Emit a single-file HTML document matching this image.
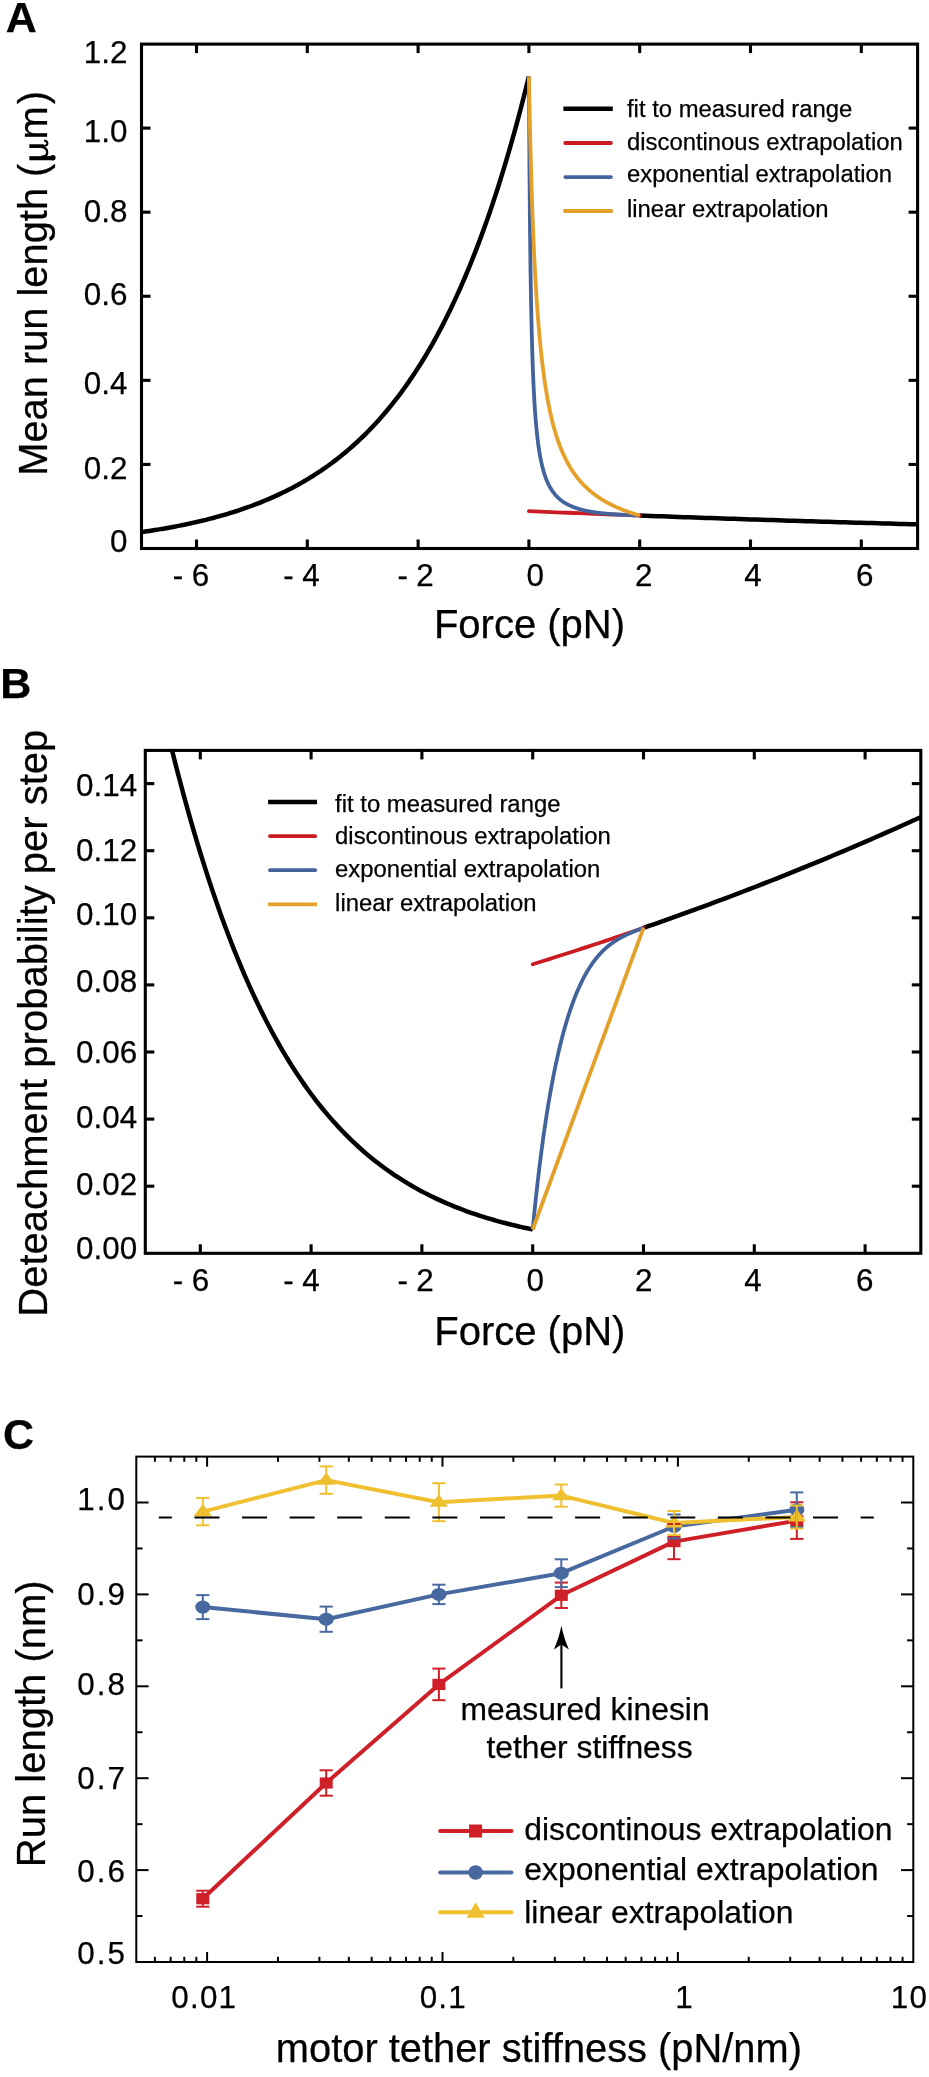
<!DOCTYPE html>
<html><head><meta charset="utf-8"><title>figure</title>
<style>
html,body{margin:0;padding:0;background:#fff;}
svg{display:block;will-change:transform;}
text{font-family:"Liberation Sans",sans-serif;fill:#000;stroke:#000;stroke-width:0.25px;}
</style></head><body>
<svg width="929" height="2077" viewBox="0 0 929 2077">
<rect width="929" height="2077" fill="#fff"/>
<path d="M141.1 532.14 L143.87 531.74 L146.64 531.33 L149.41 530.91 L152.18 530.49 L154.95 530.05 L157.72 529.6 L160.49 529.14 L163.26 528.67 L166.03 528.19 L168.8 527.69 L171.57 527.19 L174.34 526.67 L177.11 526.14 L179.88 525.6 L182.65 525.04 L185.42 524.47 L188.19 523.89 L190.96 523.29 L193.73 522.67 L196.5 522.05 L199.27 521.4 L202.04 520.75 L204.81 520.07 L207.58 519.38 L210.35 518.67 L213.12 517.95 L215.89 517.2 L218.66 516.44 L221.43 515.66 L224.2 514.87 L226.97 514.05 L229.74 513.21 L232.51 512.35 L235.28 511.48 L238.05 510.58 L240.82 509.65 L243.59 508.71 L246.36 507.74 L249.13 506.75 L251.9 505.74 L254.67 504.7 L257.44 503.63 L260.21 502.54 L262.98 501.43 L265.75 500.28 L268.52 499.11 L271.29 497.91 L274.06 496.68 L276.83 495.42 L279.6 494.13 L282.37 492.81 L285.14 491.45 L287.91 490.07 L290.68 488.65 L293.45 487.19 L296.22 485.7 L298.99 484.18 L301.76 482.61 L304.53 481.01 L307.3 479.37 L310.07 477.69 L312.84 475.97 L315.61 474.21 L318.38 472.4 L321.15 470.55 L323.92 468.66 L326.69 466.72 L329.46 464.73 L332.23 462.69 L335 460.61 L337.77 458.47 L340.54 456.28 L343.31 454.04 L346.08 451.74 L348.85 449.39 L351.62 446.98 L354.39 444.52 L357.16 441.99 L359.93 439.4 L362.7 436.75 L365.47 434.03 L368.24 431.25 L371.01 428.4 L373.78 425.48 L376.55 422.49 L379.32 419.43 L382.09 416.29 L384.86 413.08 L387.63 409.78 L390.4 406.41 L393.17 402.96 L395.94 399.42 L398.71 395.8 L401.48 392.09 L404.25 388.28 L407.02 384.39 L409.79 380.4 L412.56 376.32 L415.33 372.13 L418.1 367.84 L420.87 363.45 L423.64 358.96 L426.41 354.35 L429.18 349.63 L431.95 344.8 L434.72 339.84 L437.49 334.77 L440.26 329.58 L443.03 324.26 L445.8 318.81 L448.57 313.22 L451.34 307.5 L454.11 301.65 L456.88 295.65 L459.65 289.5 L462.42 283.21 L465.19 276.76 L467.96 270.15 L470.73 263.39 L473.5 256.46 L476.27 249.36 L479.04 242.09 L481.81 234.64 L484.58 227.01 L487.35 219.2 L490.12 211.19 L492.89 202.99 L495.66 194.6 L498.43 185.99 L501.2 177.18 L503.97 168.16 L506.74 158.91 L509.51 149.44 L512.28 139.74 L515.05 129.81 L517.82 119.63 L520.59 109.21 L523.36 98.53 L526.13 87.59 L528.9 76.39" fill="none" stroke="#000" stroke-width="4.5" stroke-linejoin="round"/>
<path d="M639.7 515.53 L645.24 515.74 L650.78 515.94 L656.32 516.14 L661.86 516.34 L667.4 516.54 L672.94 516.74 L678.48 516.94 L684.02 517.13 L689.56 517.33 L695.1 517.52 L700.64 517.71 L706.18 517.91 L711.72 518.09 L717.26 518.28 L722.8 518.47 L728.34 518.66 L733.88 518.84 L739.42 519.03 L744.96 519.21 L750.5 519.39 L756.04 519.57 L761.58 519.75 L767.12 519.93 L772.66 520.11 L778.2 520.28 L783.74 520.46 L789.28 520.63 L794.82 520.8 L800.36 520.97 L805.9 521.15 L811.44 521.31 L816.98 521.48 L822.52 521.65 L828.06 521.82 L833.6 521.98 L839.14 522.15 L844.68 522.31 L850.22 522.47 L855.76 522.63 L861.3 522.79 L866.84 522.95 L872.38 523.11 L877.92 523.27 L883.46 523.43 L889 523.58 L894.54 523.74 L900.08 523.89 L905.62 524.04 L911.16 524.19 L916.7 524.34" fill="none" stroke="#000" stroke-width="4.5" />
<path d="M528.9 511.17 L534.44 511.4 L539.98 511.63 L545.52 511.86 L551.06 512.09 L556.6 512.31 L562.14 512.54 L567.68 512.76 L573.22 512.98 L578.76 513.2 L584.3 513.42 L589.84 513.64 L595.38 513.85 L600.92 514.07 L606.46 514.28 L612 514.49 L617.54 514.7 L623.08 514.91 L628.62 515.12 L634.16 515.33 L639.7 515.53" fill="none" stroke="#ca1a22" stroke-width="3.8" stroke-linecap="round"/>
<path d="M528.9 76.39 L529.45 168.25 L530.01 229.22 L530.56 272.63 L531.12 305.11 L531.67 330.33 L532.22 350.47 L532.78 366.93 L533.33 380.63 L533.89 392.2 L534.44 402.11 L534.99 410.69 L535.55 418.19 L536.1 424.8 L536.66 430.67 L537.21 435.92 L537.76 440.64 L538.32 444.9 L538.87 448.78 L539.43 452.31 L539.98 455.54 L540.53 458.51 L541.09 461.25 L541.64 463.79 L542.2 466.14 L542.75 468.32 L543.3 470.36 L543.86 472.27 L544.41 474.05 L544.97 475.72 L545.52 477.29 L546.07 478.77 L546.63 480.17 L547.18 481.48 L547.74 482.73 L548.29 483.91 L548.84 485.03 L549.4 486.09 L549.95 487.1 L550.51 488.07 L551.06 488.98 L551.61 489.86 L552.17 490.69 L552.72 491.49 L553.28 492.25 L553.83 492.98 L554.38 493.68 L554.94 494.35 L555.49 495 L556.05 495.62 L556.6 496.21 L557.15 496.78 L557.71 497.33 L558.26 497.86 L558.82 498.37 L559.37 498.86 L559.92 499.33 L560.48 499.79 L561.03 500.23 L561.59 500.65 L562.14 501.06 L562.69 501.46 L563.25 501.84 L563.8 502.21 L564.36 502.57 L564.91 502.92 L565.46 503.25 L566.02 503.58 L566.57 503.9 L567.13 504.2 L567.68 504.5 L568.23 504.79 L568.79 505.06 L569.34 505.34 L569.9 505.6 L570.45 505.85 L571 506.1 L571.56 506.34 L572.11 506.58 L572.67 506.8 L573.22 507.02 L573.77 507.24 L574.33 507.45 L574.88 507.65 L575.44 507.85 L575.99 508.04 L576.54 508.23 L577.1 508.41 L577.65 508.59 L578.21 508.76 L578.76 508.93 L579.31 509.09 L579.87 509.25 L580.42 509.41 L580.98 509.56 L581.53 509.7 L582.08 509.85 L582.64 509.99 L583.19 510.12 L583.75 510.26 L584.3 510.39 L584.85 510.51 L585.41 510.64 L585.96 510.76 L586.52 510.87 L587.07 510.99 L587.62 511.1 L588.18 511.21 L588.73 511.32 L589.29 511.42 L589.84 511.52 L590.39 511.62 L590.95 511.72 L591.5 511.81 L592.06 511.9 L592.61 511.99 L593.16 512.08 L593.72 512.16 L594.27 512.25 L594.83 512.33 L595.38 512.41 L595.93 512.49 L596.49 512.56 L597.04 512.64 L597.6 512.71 L598.15 512.78 L598.7 512.85 L599.26 512.92 L599.81 512.98 L600.37 513.05 L600.92 513.11 L601.47 513.17 L602.03 513.23 L602.58 513.29 L603.14 513.35 L603.69 513.4 L604.24 513.46 L604.8 513.51 L605.35 513.57 L605.91 513.62 L606.46 513.67 L607.01 513.72 L607.57 513.77 L608.12 513.81 L608.68 513.86 L609.23 513.91 L609.78 513.95 L610.34 513.99 L610.89 514.04 L611.45 514.08 L612 514.12 L612.55 514.16 L613.11 514.2 L613.66 514.24 L614.22 514.28 L614.77 514.31 L615.32 514.35 L615.88 514.39 L616.43 514.42 L616.99 514.46 L617.54 514.49 L618.09 514.52 L618.65 514.56 L619.2 514.59 L619.76 514.62 L620.31 514.65 L620.86 514.68 L621.42 514.71 L621.97 514.74 L622.53 514.77 L623.08 514.8 L623.63 514.83 L624.19 514.86 L624.74 514.89 L625.3 514.91 L625.85 514.94 L626.4 514.97 L626.96 514.99 L627.51 515.02 L628.07 515.05 L628.62 515.07 L629.17 515.1 L629.73 515.12 L630.28 515.15 L630.84 515.17 L631.39 515.19 L631.94 515.22 L632.5 515.24 L633.05 515.27 L633.61 515.29 L634.16 515.31 L634.71 515.34 L635.27 515.36 L635.82 515.38 L636.38 515.4 L636.93 515.43 L637.48 515.45 L638.04 515.47 L638.59 515.49 L639.15 515.51 L639.7 515.53" fill="none" stroke="#43639c" stroke-width="3.8" stroke-linejoin="round"/>
<path d="M528.9 76.39 L529.45 104.6 L530.01 129.65 L530.56 152.02 L531.12 172.14 L531.67 190.32 L532.22 206.83 L532.78 221.9 L533.33 235.69 L533.89 248.38 L534.44 260.08 L534.99 270.91 L535.55 280.96 L536.1 290.31 L536.66 299.03 L537.21 307.19 L537.76 314.83 L538.32 322.01 L538.87 328.76 L539.43 335.12 L539.98 341.13 L540.53 346.81 L541.09 352.19 L541.64 357.3 L542.2 362.15 L542.75 366.76 L543.3 371.14 L543.86 375.33 L544.41 379.32 L544.97 383.14 L545.52 386.78 L546.07 390.28 L546.63 393.62 L547.18 396.83 L547.74 399.91 L548.29 402.87 L548.84 405.71 L549.4 408.45 L549.95 411.09 L550.51 413.63 L551.06 416.07 L551.61 418.43 L552.17 420.71 L552.72 422.92 L553.28 425.05 L553.83 427.1 L554.38 429.1 L554.94 431.02 L555.49 432.89 L556.05 434.7 L556.6 436.46 L557.15 438.16 L557.71 439.81 L558.26 441.42 L558.82 442.98 L559.37 444.49 L559.92 445.96 L560.48 447.4 L561.03 448.79 L561.59 450.15 L562.14 451.47 L562.69 452.75 L563.25 454 L563.8 455.22 L564.36 456.41 L564.91 457.58 L565.46 458.71 L566.02 459.81 L566.57 460.89 L567.13 461.95 L567.68 462.97 L568.23 463.98 L568.79 464.96 L569.34 465.92 L569.9 466.86 L570.45 467.78 L571 468.68 L571.56 469.55 L572.11 470.41 L572.67 471.26 L573.22 472.08 L573.77 472.89 L574.33 473.68 L574.88 474.45 L575.44 475.21 L575.99 475.96 L576.54 476.69 L577.1 477.4 L577.65 478.1 L578.21 478.79 L578.76 479.47 L579.31 480.13 L579.87 480.78 L580.42 481.42 L580.98 482.04 L581.53 482.66 L582.08 483.26 L582.64 483.86 L583.19 484.44 L583.75 485.01 L584.3 485.57 L584.85 486.13 L585.41 486.67 L585.96 487.21 L586.52 487.73 L587.07 488.25 L587.62 488.76 L588.18 489.26 L588.73 489.75 L589.29 490.24 L589.84 490.71 L590.39 491.18 L590.95 491.64 L591.5 492.1 L592.06 492.55 L592.61 492.99 L593.16 493.42 L593.72 493.85 L594.27 494.27 L594.83 494.69 L595.38 495.1 L595.93 495.5 L596.49 495.9 L597.04 496.29 L597.6 496.67 L598.15 497.05 L598.7 497.43 L599.26 497.8 L599.81 498.16 L600.37 498.52 L600.92 498.88 L601.47 499.23 L602.03 499.57 L602.58 499.91 L603.14 500.25 L603.69 500.58 L604.24 500.91 L604.8 501.23 L605.35 501.55 L605.91 501.86 L606.46 502.17 L607.01 502.48 L607.57 502.78 L608.12 503.08 L608.68 503.37 L609.23 503.67 L609.78 503.95 L610.34 504.24 L610.89 504.52 L611.45 504.8 L612 505.07 L612.55 505.34 L613.11 505.61 L613.66 505.87 L614.22 506.13 L614.77 506.39 L615.32 506.65 L615.88 506.9 L616.43 507.15 L616.99 507.4 L617.54 507.64 L618.09 507.88 L618.65 508.12 L619.2 508.35 L619.76 508.59 L620.31 508.82 L620.86 509.04 L621.42 509.27 L621.97 509.49 L622.53 509.71 L623.08 509.93 L623.63 510.15 L624.19 510.36 L624.74 510.57 L625.3 510.78 L625.85 510.99 L626.4 511.19 L626.96 511.39 L627.51 511.6 L628.07 511.79 L628.62 511.99 L629.17 512.18 L629.73 512.38 L630.28 512.57 L630.84 512.76 L631.39 512.94 L631.94 513.13 L632.5 513.31 L633.05 513.49 L633.61 513.67 L634.16 513.85 L634.71 514.02 L635.27 514.2 L635.82 514.37 L636.38 514.54 L636.93 514.71 L637.48 514.88 L638.04 515.05 L638.59 515.21 L639.15 515.37 L639.7 515.53" fill="none" stroke="#e5a029" stroke-width="3.8" stroke-linejoin="round"/>
<rect x="141.5" y="44.1" width="776.1" height="504.4" fill="none" stroke="#000" stroke-width="3.1"/>
<line x1="196.5" y1="548.5" x2="196.5" y2="539.5" stroke="#000" stroke-width="3.1" />
<line x1="196.5" y1="44.1" x2="196.5" y2="53.1" stroke="#000" stroke-width="3.1" />
<line x1="307.3" y1="548.5" x2="307.3" y2="539.5" stroke="#000" stroke-width="3.1" />
<line x1="307.3" y1="44.1" x2="307.3" y2="53.1" stroke="#000" stroke-width="3.1" />
<line x1="418.1" y1="548.5" x2="418.1" y2="539.5" stroke="#000" stroke-width="3.1" />
<line x1="418.1" y1="44.1" x2="418.1" y2="53.1" stroke="#000" stroke-width="3.1" />
<line x1="528.9" y1="548.5" x2="528.9" y2="539.5" stroke="#000" stroke-width="3.1" />
<line x1="528.9" y1="44.1" x2="528.9" y2="53.1" stroke="#000" stroke-width="3.1" />
<line x1="639.7" y1="548.5" x2="639.7" y2="539.5" stroke="#000" stroke-width="3.1" />
<line x1="639.7" y1="44.1" x2="639.7" y2="53.1" stroke="#000" stroke-width="3.1" />
<line x1="750.5" y1="548.5" x2="750.5" y2="539.5" stroke="#000" stroke-width="3.1" />
<line x1="750.5" y1="44.1" x2="750.5" y2="53.1" stroke="#000" stroke-width="3.1" />
<line x1="861.3" y1="548.5" x2="861.3" y2="539.5" stroke="#000" stroke-width="3.1" />
<line x1="861.3" y1="44.1" x2="861.3" y2="53.1" stroke="#000" stroke-width="3.1" />
<line x1="141.5" y1="464.42" x2="150.5" y2="464.42" stroke="#000" stroke-width="3.1" />
<line x1="917.6" y1="464.42" x2="908.6" y2="464.42" stroke="#000" stroke-width="3.1" />
<line x1="141.5" y1="380.34" x2="150.5" y2="380.34" stroke="#000" stroke-width="3.1" />
<line x1="917.6" y1="380.34" x2="908.6" y2="380.34" stroke="#000" stroke-width="3.1" />
<line x1="141.5" y1="296.26" x2="150.5" y2="296.26" stroke="#000" stroke-width="3.1" />
<line x1="917.6" y1="296.26" x2="908.6" y2="296.26" stroke="#000" stroke-width="3.1" />
<line x1="141.5" y1="212.18" x2="150.5" y2="212.18" stroke="#000" stroke-width="3.1" />
<line x1="917.6" y1="212.18" x2="908.6" y2="212.18" stroke="#000" stroke-width="3.1" />
<line x1="141.5" y1="128.1" x2="150.5" y2="128.1" stroke="#000" stroke-width="3.1" />
<line x1="917.6" y1="128.1" x2="908.6" y2="128.1" stroke="#000" stroke-width="3.1" />
<text x="127.4" y="63.2" font-size="31.4" text-anchor="end" >1.2</text>
<text x="127.4" y="142.1" font-size="31.4" text-anchor="end" >1.0</text>
<text x="127.4" y="221.9" font-size="31.4" text-anchor="end" >0.8</text>
<text x="127.4" y="305.3" font-size="31.4" text-anchor="end" >0.6</text>
<text x="127.4" y="394" font-size="31.4" text-anchor="end" >0.4</text>
<text x="127.4" y="478.6" font-size="31.4" text-anchor="end" >0.2</text>
<text x="127.4" y="552.4" font-size="31.4" text-anchor="end" >0</text>
<text x="200.6" y="586.2" font-size="31.4" text-anchor="middle" >6</text>
<text x="178" y="586.2" font-size="31.4" text-anchor="middle" >-</text>
<text x="310.9" y="586.2" font-size="31.4" text-anchor="middle" >4</text>
<text x="288.6" y="586.2" font-size="31.4" text-anchor="middle" >-</text>
<text x="425" y="586.2" font-size="31.4" text-anchor="middle" >2</text>
<text x="402.7" y="586.2" font-size="31.4" text-anchor="middle" >-</text>
<text x="535.2" y="586.2" font-size="31.4" text-anchor="middle" >0</text>
<text x="643.8" y="586.2" font-size="31.4" text-anchor="middle" >2</text>
<text x="753" y="586.2" font-size="31.4" text-anchor="middle" >4</text>
<text x="864.8" y="586.2" font-size="31.4" text-anchor="middle" >6</text>
<text x="529.5" y="638.3" font-size="40" text-anchor="middle" >Force (pN)</text>
<g transform="translate(47.0,475.8) rotate(-90)">
<text x="0" y="0" font-size="39.85">Mean run length (</text>
<text x="336.4" y="0" font-size="39.85">m</text>
<text x="371.5" y="0" font-size="39.85">)</text>
<g fill="none" stroke="#000">
<path d="M317.6 -17.7 L317.6 5.6" stroke-width="4.1"/>
<circle cx="318.0" cy="5.9" r="2.7" fill="#000" stroke="none"/>
<path d="M319.2 -5.5 C319.2 -0.8 321.3 0.2 323.6 0.2 C326.4 0.2 328.2 -1.8 329.0 -5.2" stroke-width="2.3"/>
<path d="M329.7 -17.7 L329.7 -3.2" stroke-width="3.7"/>
<path d="M329.7 -4.0 C329.7 -0.6 330.9 0.4 332.5 0.4 C334.1 0.4 335.1 -0.8 335.4 -2.8" stroke-width="2.0"/>
</g></g>
<text x="5.7" y="32.4" font-size="43" text-anchor="start" font-weight="bold" >A</text>
<line x1="563.4" y1="108.7" x2="612.8" y2="108.7" stroke="#000" stroke-width="4.4" stroke-linecap="butt"/>
<text x="627" y="116.9" font-size="23.85" text-anchor="start" >fit to measured range</text>
<line x1="565.3" y1="143" x2="610.9" y2="143" stroke="#ca1a22" stroke-width="3.8" stroke-linecap="round"/>
<text x="627" y="149.6" font-size="23.85" text-anchor="start" >discontinous extrapolation</text>
<line x1="565.3" y1="177.1" x2="610.9" y2="177.1" stroke="#43639c" stroke-width="3.8" stroke-linecap="round"/>
<text x="627" y="181.9" font-size="23.85" text-anchor="start" >exponential extrapolation</text>
<line x1="563.4" y1="211" x2="612.8" y2="211" stroke="#e5a029" stroke-width="3.8" stroke-linecap="butt"/>
<text x="627" y="216.8" font-size="23.85" text-anchor="start" >linear extrapolation</text>
<clipPath id="cb"><rect x="145.3" y="750.4" width="775.5" height="502.9"/></clipPath>
<path d="M144.9 629.99 L147.67 643.35 L150.44 656.45 L153.21 669.3 L155.98 681.91 L158.75 694.27 L161.52 706.38 L164.29 718.27 L167.06 729.92 L169.83 741.34 L172.6 752.53 L175.37 763.5 L178.14 774.25 L180.91 784.78 L183.68 795.1 L186.45 805.21 L189.22 815.12 L191.99 824.82 L194.76 834.33 L197.53 843.63 L200.3 852.75 L203.07 861.68 L205.84 870.42 L208.61 878.98 L211.38 887.36 L214.15 895.56 L216.92 903.59 L219.69 911.45 L222.46 919.14 L225.23 926.67 L228 934.04 L230.77 941.25 L233.54 948.31 L236.31 955.22 L239.08 961.97 L241.85 968.58 L244.62 975.05 L247.39 981.38 L250.16 987.57 L252.93 993.62 L255.7 999.55 L258.47 1005.34 L261.24 1011.01 L264.01 1016.55 L266.78 1021.97 L269.55 1027.27 L272.32 1032.45 L275.09 1037.52 L277.86 1042.47 L280.63 1047.32 L283.4 1052.06 L286.17 1056.69 L288.94 1061.22 L291.71 1065.65 L294.48 1069.98 L297.25 1074.21 L300.02 1078.35 L302.79 1082.39 L305.56 1086.34 L308.33 1090.21 L311.1 1093.98 L313.87 1097.67 L316.64 1101.28 L319.41 1104.81 L322.18 1108.26 L324.95 1111.62 L327.72 1114.91 L330.49 1118.13 L333.26 1121.28 L336.03 1124.35 L338.8 1127.35 L341.57 1130.28 L344.34 1133.15 L347.11 1135.95 L349.88 1138.69 L352.65 1141.36 L355.42 1143.97 L358.19 1146.52 L360.96 1149.02 L363.73 1151.45 L366.5 1153.84 L369.27 1156.16 L372.04 1158.43 L374.81 1160.65 L377.58 1162.82 L380.35 1164.94 L383.12 1167.01 L385.89 1169.03 L388.66 1171.01 L391.43 1172.94 L394.2 1174.82 L396.97 1176.66 L399.74 1178.46 L402.51 1180.22 L405.28 1181.93 L408.05 1183.61 L410.82 1185.24 L413.59 1186.84 L416.36 1188.4 L419.13 1189.93 L421.9 1191.42 L424.67 1192.87 L427.44 1194.3 L430.21 1195.68 L432.98 1197.04 L435.75 1198.36 L438.52 1199.66 L441.29 1200.92 L444.06 1202.15 L446.83 1203.36 L449.6 1204.53 L452.37 1205.68 L455.14 1206.8 L457.91 1207.9 L460.68 1208.97 L463.45 1210.02 L466.22 1211.04 L468.99 1212.03 L471.76 1213.01 L474.53 1213.96 L477.3 1214.89 L480.07 1215.79 L482.84 1216.68 L485.61 1217.54 L488.38 1218.39 L491.15 1219.21 L493.92 1220.01 L496.69 1220.8 L499.46 1221.57 L502.23 1222.32 L505 1223.05 L507.77 1223.76 L510.54 1224.46 L513.31 1225.14 L516.08 1225.81 L518.85 1226.46 L521.62 1227.09 L524.39 1227.71 L527.16 1228.32 L529.93 1228.91 L532.7 1229.48" fill="none" stroke="#000" stroke-width="4.5" clip-path="url(#cb)" stroke-linejoin="round"/>
<path d="M643.5 927.9 L649.04 925.97 L654.58 924.03 L660.12 922.08 L665.66 920.12 L671.2 918.15 L676.74 916.17 L682.28 914.18 L687.82 912.17 L693.36 910.16 L698.9 908.13 L704.44 906.09 L709.98 904.04 L715.52 901.98 L721.06 899.91 L726.6 897.83 L732.14 895.73 L737.68 893.63 L743.22 891.51 L748.76 889.38 L754.3 887.24 L759.84 885.08 L765.38 882.92 L770.92 880.74 L776.46 878.55 L782 876.35 L787.54 874.14 L793.08 871.91 L798.62 869.67 L804.16 867.42 L809.7 865.16 L815.24 862.89 L820.78 860.6 L826.32 858.3 L831.86 855.99 L837.4 853.66 L842.94 851.33 L848.48 848.98 L854.02 846.61 L859.56 844.24 L865.1 841.85 L870.64 839.45 L876.18 837.03 L881.72 834.6 L887.26 832.16 L892.8 829.71 L898.34 827.24 L903.88 824.76 L909.42 822.27 L914.96 819.76 L920.5 817.24" fill="none" stroke="#000" stroke-width="4.5" />
<path d="M532.7 964.26 L538.24 962.54 L543.78 960.81 L549.32 959.07 L554.86 957.31 L560.4 955.55 L565.94 953.78 L571.48 952 L577.02 950.21 L582.56 948.4 L588.1 946.59 L593.64 944.77 L599.18 942.94 L604.72 941.09 L610.26 939.24 L615.8 937.38 L621.34 935.5 L626.88 933.62 L632.42 931.72 L637.96 929.81 L643.5 927.9" fill="none" stroke="#ca1a22" stroke-width="3.8" stroke-linecap="round"/>
<path d="M532.7 1229.48 L533.25 1223.76 L533.81 1218.15 L534.36 1212.65 L534.92 1207.26 L535.47 1201.98 L536.02 1196.8 L536.58 1191.73 L537.13 1186.75 L537.69 1181.88 L538.24 1177.1 L538.79 1172.41 L539.35 1167.82 L539.9 1163.31 L540.46 1158.89 L541.01 1154.55 L541.56 1150.3 L542.12 1146.13 L542.67 1142.04 L543.23 1138.03 L543.78 1134.09 L544.33 1130.22 L544.89 1126.43 L545.44 1122.71 L546 1119.06 L546.55 1115.48 L547.1 1111.96 L547.66 1108.51 L548.21 1105.12 L548.77 1101.79 L549.32 1098.53 L549.87 1095.32 L550.43 1092.18 L550.98 1089.09 L551.54 1086.05 L552.09 1083.07 L552.64 1080.15 L553.2 1077.28 L553.75 1074.46 L554.31 1071.69 L554.86 1068.97 L555.41 1066.3 L555.97 1063.68 L556.52 1061.1 L557.08 1058.57 L557.63 1056.09 L558.18 1053.64 L558.74 1051.25 L559.29 1048.89 L559.85 1046.58 L560.4 1044.31 L560.95 1042.08 L561.51 1039.88 L562.06 1037.73 L562.62 1035.61 L563.17 1033.54 L563.72 1031.49 L564.28 1029.49 L564.83 1027.52 L565.39 1025.58 L565.94 1023.68 L566.49 1021.82 L567.05 1019.98 L567.6 1018.18 L568.16 1016.41 L568.71 1014.67 L569.26 1012.96 L569.82 1011.28 L570.37 1009.63 L570.93 1008.01 L571.48 1006.42 L572.03 1004.86 L572.59 1003.32 L573.14 1001.82 L573.7 1000.34 L574.25 998.88 L574.8 997.45 L575.36 996.05 L575.91 994.67 L576.47 993.32 L577.02 991.99 L577.57 990.68 L578.13 989.4 L578.68 988.14 L579.24 986.91 L579.79 985.69 L580.34 984.5 L580.9 983.33 L581.45 982.18 L582.01 981.05 L582.56 979.95 L583.11 978.86 L583.67 977.79 L584.22 976.74 L584.78 975.72 L585.33 974.71 L585.88 973.72 L586.44 972.74 L586.99 971.79 L587.55 970.85 L588.1 969.93 L588.65 969.03 L589.21 968.14 L589.76 967.28 L590.32 966.42 L590.87 965.59 L591.42 964.77 L591.98 963.96 L592.53 963.17 L593.09 962.4 L593.64 961.64 L594.19 960.89 L594.75 960.16 L595.3 959.44 L595.86 958.74 L596.41 958.05 L596.96 957.37 L597.52 956.71 L598.07 956.05 L598.63 955.42 L599.18 954.79 L599.73 954.17 L600.29 953.57 L600.84 952.98 L601.4 952.4 L601.95 951.83 L602.5 951.27 L603.06 950.73 L603.61 950.19 L604.17 949.67 L604.72 949.15 L605.27 948.64 L605.83 948.15 L606.38 947.66 L606.94 947.18 L607.49 946.71 L608.04 946.25 L608.6 945.8 L609.15 945.36 L609.71 944.93 L610.26 944.5 L610.81 944.08 L611.37 943.67 L611.92 943.27 L612.48 942.87 L613.03 942.48 L613.58 942.1 L614.14 941.73 L614.69 941.36 L615.25 941 L615.8 940.64 L616.35 940.29 L616.91 939.95 L617.46 939.61 L618.02 939.28 L618.57 938.96 L619.12 938.63 L619.68 938.32 L620.23 938.01 L620.79 937.7 L621.34 937.4 L621.89 937.11 L622.45 936.82 L623 936.53 L623.56 936.25 L624.11 935.97 L624.66 935.69 L625.22 935.42 L625.77 935.15 L626.33 934.89 L626.88 934.63 L627.43 934.37 L627.99 934.12 L628.54 933.87 L629.1 933.62 L629.65 933.37 L630.2 933.13 L630.76 932.89 L631.31 932.65 L631.87 932.42 L632.42 932.19 L632.97 931.96 L633.53 931.73 L634.08 931.5 L634.64 931.28 L635.19 931.06 L635.74 930.84 L636.3 930.62 L636.85 930.4 L637.41 930.18 L637.96 929.97 L638.51 929.76 L639.07 929.55 L639.62 929.34 L640.18 929.13 L640.73 928.92 L641.28 928.71 L641.84 928.51 L642.39 928.3 L642.95 928.1 L643.5 927.9" fill="none" stroke="#43639c" stroke-width="3.8" stroke-linejoin="round"/>
<path d="M532.7 1229.48 L588.1 1078.69 L643.5 927.9" fill="none" stroke="#e5a029" stroke-width="3.8" />
<rect x="145.3" y="750.4" width="775.5" height="502.9" fill="none" stroke="#000" stroke-width="3.1"/>
<line x1="200.3" y1="1253.3" x2="200.3" y2="1244.3" stroke="#000" stroke-width="3.1" />
<line x1="200.3" y1="750.4" x2="200.3" y2="759.4" stroke="#000" stroke-width="3.1" />
<line x1="311.1" y1="1253.3" x2="311.1" y2="1244.3" stroke="#000" stroke-width="3.1" />
<line x1="311.1" y1="750.4" x2="311.1" y2="759.4" stroke="#000" stroke-width="3.1" />
<line x1="421.9" y1="1253.3" x2="421.9" y2="1244.3" stroke="#000" stroke-width="3.1" />
<line x1="421.9" y1="750.4" x2="421.9" y2="759.4" stroke="#000" stroke-width="3.1" />
<line x1="532.7" y1="1253.3" x2="532.7" y2="1244.3" stroke="#000" stroke-width="3.1" />
<line x1="532.7" y1="750.4" x2="532.7" y2="759.4" stroke="#000" stroke-width="3.1" />
<line x1="643.5" y1="1253.3" x2="643.5" y2="1244.3" stroke="#000" stroke-width="3.1" />
<line x1="643.5" y1="750.4" x2="643.5" y2="759.4" stroke="#000" stroke-width="3.1" />
<line x1="754.3" y1="1253.3" x2="754.3" y2="1244.3" stroke="#000" stroke-width="3.1" />
<line x1="754.3" y1="750.4" x2="754.3" y2="759.4" stroke="#000" stroke-width="3.1" />
<line x1="865.1" y1="1253.3" x2="865.1" y2="1244.3" stroke="#000" stroke-width="3.1" />
<line x1="865.1" y1="750.4" x2="865.1" y2="759.4" stroke="#000" stroke-width="3.1" />
<line x1="145.3" y1="1186.2" x2="154.3" y2="1186.2" stroke="#000" stroke-width="3.1" />
<line x1="920.8" y1="1186.2" x2="911.8" y2="1186.2" stroke="#000" stroke-width="3.1" />
<line x1="145.3" y1="1119.1" x2="154.3" y2="1119.1" stroke="#000" stroke-width="3.1" />
<line x1="920.8" y1="1119.1" x2="911.8" y2="1119.1" stroke="#000" stroke-width="3.1" />
<line x1="145.3" y1="1052" x2="154.3" y2="1052" stroke="#000" stroke-width="3.1" />
<line x1="920.8" y1="1052" x2="911.8" y2="1052" stroke="#000" stroke-width="3.1" />
<line x1="145.3" y1="984.9" x2="154.3" y2="984.9" stroke="#000" stroke-width="3.1" />
<line x1="920.8" y1="984.9" x2="911.8" y2="984.9" stroke="#000" stroke-width="3.1" />
<line x1="145.3" y1="917.8" x2="154.3" y2="917.8" stroke="#000" stroke-width="3.1" />
<line x1="920.8" y1="917.8" x2="911.8" y2="917.8" stroke="#000" stroke-width="3.1" />
<line x1="145.3" y1="850.7" x2="154.3" y2="850.7" stroke="#000" stroke-width="3.1" />
<line x1="920.8" y1="850.7" x2="911.8" y2="850.7" stroke="#000" stroke-width="3.1" />
<line x1="145.3" y1="783.6" x2="154.3" y2="783.6" stroke="#000" stroke-width="3.1" />
<line x1="920.8" y1="783.6" x2="911.8" y2="783.6" stroke="#000" stroke-width="3.1" />
<text x="137.2" y="795.6" font-size="31.4" text-anchor="end" >0.14</text>
<text x="137.2" y="860.5" font-size="31.4" text-anchor="end" >0.12</text>
<text x="137.2" y="924.6" font-size="31.4" text-anchor="end" >0.10</text>
<text x="137.2" y="991.8" font-size="31.4" text-anchor="end" >0.08</text>
<text x="137.2" y="1063.4" font-size="31.4" text-anchor="end" >0.06</text>
<text x="137.2" y="1127.7" font-size="31.4" text-anchor="end" >0.04</text>
<text x="137.2" y="1194.5" font-size="31.4" text-anchor="end" >0.02</text>
<text x="137.2" y="1259.3" font-size="31.4" text-anchor="end" >0.00</text>
<text x="200.6" y="1291.1" font-size="31.4" text-anchor="middle" >6</text>
<text x="178" y="1291.1" font-size="31.4" text-anchor="middle" >-</text>
<text x="310.9" y="1291.1" font-size="31.4" text-anchor="middle" >4</text>
<text x="288.6" y="1291.1" font-size="31.4" text-anchor="middle" >-</text>
<text x="425" y="1291.1" font-size="31.4" text-anchor="middle" >2</text>
<text x="402.7" y="1291.1" font-size="31.4" text-anchor="middle" >-</text>
<text x="535.2" y="1291.1" font-size="31.4" text-anchor="middle" >0</text>
<text x="643.8" y="1291.1" font-size="31.4" text-anchor="middle" >2</text>
<text x="753" y="1291.1" font-size="31.4" text-anchor="middle" >4</text>
<text x="864.8" y="1291.1" font-size="31.4" text-anchor="middle" >6</text>
<text x="529.8" y="1344.8" font-size="40" text-anchor="middle" >Force (pN)</text>
<text transform="translate(47.3,1316.7) rotate(-90)" font-size="40">Deteachment probability per step</text>
<text x="0.2" y="697.7" font-size="43" text-anchor="start" font-weight="bold" >B</text>
<line x1="268.1" y1="802" x2="317" y2="802" stroke="#000" stroke-width="4.4" stroke-linecap="butt"/>
<text x="335.1" y="811.9" font-size="23.85" text-anchor="start" >fit to measured range</text>
<line x1="270" y1="836.2" x2="315.1" y2="836.2" stroke="#ca1a22" stroke-width="3.8" stroke-linecap="round"/>
<text x="335.1" y="844.3" font-size="23.85" text-anchor="start" >discontinous extrapolation</text>
<line x1="270" y1="870.2" x2="315.1" y2="870.2" stroke="#43639c" stroke-width="3.8" stroke-linecap="round"/>
<text x="335.1" y="876.9" font-size="23.85" text-anchor="start" >exponential extrapolation</text>
<line x1="268.1" y1="904.3" x2="317" y2="904.3" stroke="#e5a029" stroke-width="3.8" stroke-linecap="butt"/>
<text x="335.1" y="911.3" font-size="23.85" text-anchor="start" >linear extrapolation</text>
<path d="M202.8 1898.7 L326.2 1783 L438.9 1684.4 L561.3 1595.3 L674 1541.6 L796.8 1520.6" fill="none" stroke="#cf2029" stroke-width="4" stroke-linejoin="round"/>
<rect x="196.3" y="1893.1" width="13" height="11.2" fill="#cf2029"/>
<rect x="319.7" y="1777.4" width="13" height="11.2" fill="#cf2029"/>
<rect x="432.4" y="1678.8" width="13" height="11.2" fill="#cf2029"/>
<rect x="554.8" y="1589.7" width="13" height="11.2" fill="#cf2029"/>
<rect x="667.5" y="1536" width="13" height="11.2" fill="#cf2029"/>
<rect x="790.3" y="1515" width="13" height="11.2" fill="#cf2029"/>
<path d="M202.8 1607.1 L326.2 1619.2 L438.9 1594.4 L561.3 1573.2 L674 1526.5 L796.8 1509.7" fill="none" stroke="#48699f" stroke-width="4" stroke-linejoin="round"/>
<ellipse cx="202.8" cy="1607.1" rx="7.6" ry="6.5" fill="#48699f"/>
<ellipse cx="326.2" cy="1619.2" rx="7.6" ry="6.5" fill="#48699f"/>
<ellipse cx="438.9" cy="1594.4" rx="7.6" ry="6.5" fill="#48699f"/>
<ellipse cx="561.3" cy="1573.2" rx="7.6" ry="6.5" fill="#48699f"/>
<ellipse cx="674" cy="1526.5" rx="7.6" ry="6.5" fill="#48699f"/>
<ellipse cx="796.8" cy="1509.7" rx="7.6" ry="6.5" fill="#48699f"/>
<path d="M202.8 1511.6 L326.2 1480.1 L438.9 1502.2 L561.3 1495.6 L674 1523 L796.8 1517" fill="none" stroke="#efc02f" stroke-width="4" stroke-linejoin="round"/>
<path d="M193.5 1516.2 L212.1 1516.2 L202.8 1503.9 Z" fill="#efc02f"/>
<path d="M316.9 1484.7 L335.5 1484.7 L326.2 1472.4 Z" fill="#efc02f"/>
<path d="M429.6 1506.8 L448.2 1506.8 L438.9 1494.5 Z" fill="#efc02f"/>
<path d="M552 1500.2 L570.6 1500.2 L561.3 1487.9 Z" fill="#efc02f"/>
<path d="M664.7 1527.6 L683.3 1527.6 L674 1515.3 Z" fill="#efc02f"/>
<path d="M787.5 1521.6 L806.1 1521.6 L796.8 1509.3 Z" fill="#efc02f"/>
<line x1="202.8" y1="1890.7" x2="202.8" y2="1906.7" stroke="#cf2029" stroke-width="2" />
<line x1="196.2" y1="1890.7" x2="209.4" y2="1890.7" stroke="#cf2029" stroke-width="2" />
<line x1="196.2" y1="1906.7" x2="209.4" y2="1906.7" stroke="#cf2029" stroke-width="2" />
<line x1="326.2" y1="1770.3" x2="326.2" y2="1795.7" stroke="#cf2029" stroke-width="2" />
<line x1="319.6" y1="1770.3" x2="332.8" y2="1770.3" stroke="#cf2029" stroke-width="2" />
<line x1="319.6" y1="1795.7" x2="332.8" y2="1795.7" stroke="#cf2029" stroke-width="2" />
<line x1="438.9" y1="1668.6" x2="438.9" y2="1700.2" stroke="#cf2029" stroke-width="2" />
<line x1="432.3" y1="1668.6" x2="445.5" y2="1668.6" stroke="#cf2029" stroke-width="2" />
<line x1="432.3" y1="1700.2" x2="445.5" y2="1700.2" stroke="#cf2029" stroke-width="2" />
<line x1="561.3" y1="1582.6" x2="561.3" y2="1608" stroke="#cf2029" stroke-width="2" />
<line x1="554.7" y1="1582.6" x2="567.9" y2="1582.6" stroke="#cf2029" stroke-width="2" />
<line x1="554.7" y1="1608" x2="567.9" y2="1608" stroke="#cf2029" stroke-width="2" />
<line x1="674" y1="1524" x2="674" y2="1559.2" stroke="#cf2029" stroke-width="2" />
<line x1="667.4" y1="1524" x2="680.6" y2="1524" stroke="#cf2029" stroke-width="2" />
<line x1="667.4" y1="1559.2" x2="680.6" y2="1559.2" stroke="#cf2029" stroke-width="2" />
<line x1="796.8" y1="1502.3" x2="796.8" y2="1538.9" stroke="#cf2029" stroke-width="2" />
<line x1="790.2" y1="1502.3" x2="803.4" y2="1502.3" stroke="#cf2029" stroke-width="2" />
<line x1="790.2" y1="1538.9" x2="803.4" y2="1538.9" stroke="#cf2029" stroke-width="2" />
<line x1="202.8" y1="1595.1" x2="202.8" y2="1619.1" stroke="#48699f" stroke-width="2" />
<line x1="196.2" y1="1595.1" x2="209.4" y2="1595.1" stroke="#48699f" stroke-width="2" />
<line x1="196.2" y1="1619.1" x2="209.4" y2="1619.1" stroke="#48699f" stroke-width="2" />
<line x1="326.2" y1="1606.6" x2="326.2" y2="1631.8" stroke="#48699f" stroke-width="2" />
<line x1="319.6" y1="1606.6" x2="332.8" y2="1606.6" stroke="#48699f" stroke-width="2" />
<line x1="319.6" y1="1631.8" x2="332.8" y2="1631.8" stroke="#48699f" stroke-width="2" />
<line x1="438.9" y1="1584.7" x2="438.9" y2="1604.1" stroke="#48699f" stroke-width="2" />
<line x1="432.3" y1="1584.7" x2="445.5" y2="1584.7" stroke="#48699f" stroke-width="2" />
<line x1="432.3" y1="1604.1" x2="445.5" y2="1604.1" stroke="#48699f" stroke-width="2" />
<line x1="561.3" y1="1559.3" x2="561.3" y2="1587.1" stroke="#48699f" stroke-width="2" />
<line x1="554.7" y1="1559.3" x2="567.9" y2="1559.3" stroke="#48699f" stroke-width="2" />
<line x1="554.7" y1="1587.1" x2="567.9" y2="1587.1" stroke="#48699f" stroke-width="2" />
<line x1="674" y1="1514.5" x2="674" y2="1538.5" stroke="#48699f" stroke-width="2" />
<line x1="667.4" y1="1514.5" x2="680.6" y2="1514.5" stroke="#48699f" stroke-width="2" />
<line x1="667.4" y1="1538.5" x2="680.6" y2="1538.5" stroke="#48699f" stroke-width="2" />
<line x1="796.8" y1="1492.4" x2="796.8" y2="1527" stroke="#48699f" stroke-width="2" />
<line x1="790.2" y1="1492.4" x2="803.4" y2="1492.4" stroke="#48699f" stroke-width="2" />
<line x1="790.2" y1="1527" x2="803.4" y2="1527" stroke="#48699f" stroke-width="2" />
<line x1="202.8" y1="1497.9" x2="202.8" y2="1525.3" stroke="#efc02f" stroke-width="2" />
<line x1="196.2" y1="1497.9" x2="209.4" y2="1497.9" stroke="#efc02f" stroke-width="2" />
<line x1="196.2" y1="1525.3" x2="209.4" y2="1525.3" stroke="#efc02f" stroke-width="2" />
<line x1="326.2" y1="1466.4" x2="326.2" y2="1493.8" stroke="#efc02f" stroke-width="2" />
<line x1="319.6" y1="1466.4" x2="332.8" y2="1466.4" stroke="#efc02f" stroke-width="2" />
<line x1="319.6" y1="1493.8" x2="332.8" y2="1493.8" stroke="#efc02f" stroke-width="2" />
<line x1="438.9" y1="1483.2" x2="438.9" y2="1521.2" stroke="#efc02f" stroke-width="2" />
<line x1="432.3" y1="1483.2" x2="445.5" y2="1483.2" stroke="#efc02f" stroke-width="2" />
<line x1="432.3" y1="1521.2" x2="445.5" y2="1521.2" stroke="#efc02f" stroke-width="2" />
<line x1="561.3" y1="1484.5" x2="561.3" y2="1506.7" stroke="#efc02f" stroke-width="2" />
<line x1="554.7" y1="1484.5" x2="567.9" y2="1484.5" stroke="#efc02f" stroke-width="2" />
<line x1="554.7" y1="1506.7" x2="567.9" y2="1506.7" stroke="#efc02f" stroke-width="2" />
<line x1="674" y1="1511" x2="674" y2="1535" stroke="#efc02f" stroke-width="2" />
<line x1="667.4" y1="1511" x2="680.6" y2="1511" stroke="#efc02f" stroke-width="2" />
<line x1="667.4" y1="1535" x2="680.6" y2="1535" stroke="#efc02f" stroke-width="2" />
<line x1="796.8" y1="1505.5" x2="796.8" y2="1528.5" stroke="#efc02f" stroke-width="2" />
<line x1="790.2" y1="1505.5" x2="803.4" y2="1505.5" stroke="#efc02f" stroke-width="2" />
<line x1="790.2" y1="1528.5" x2="803.4" y2="1528.5" stroke="#efc02f" stroke-width="2" />
<line x1="158.8" y1="1517.5" x2="873.8" y2="1517.5" stroke="#000" stroke-width="2.1" stroke-dasharray="25 22.58" stroke-dashoffset="11.9"/>
<rect x="136.3" y="1456.6" width="777" height="505.4" fill="none" stroke="#000" stroke-width="2"/>
<line x1="136.3" y1="1916.05" x2="142.5" y2="1916.05" stroke="#000" stroke-width="2" />
<line x1="913.3" y1="1916.05" x2="907.1" y2="1916.05" stroke="#000" stroke-width="2" />
<line x1="136.3" y1="1870.1" x2="148.6" y2="1870.1" stroke="#000" stroke-width="2" />
<line x1="913.3" y1="1870.1" x2="901" y2="1870.1" stroke="#000" stroke-width="2" />
<line x1="136.3" y1="1824.15" x2="142.5" y2="1824.15" stroke="#000" stroke-width="2" />
<line x1="913.3" y1="1824.15" x2="907.1" y2="1824.15" stroke="#000" stroke-width="2" />
<line x1="136.3" y1="1778.2" x2="148.6" y2="1778.2" stroke="#000" stroke-width="2" />
<line x1="913.3" y1="1778.2" x2="901" y2="1778.2" stroke="#000" stroke-width="2" />
<line x1="136.3" y1="1732.25" x2="142.5" y2="1732.25" stroke="#000" stroke-width="2" />
<line x1="913.3" y1="1732.25" x2="907.1" y2="1732.25" stroke="#000" stroke-width="2" />
<line x1="136.3" y1="1686.3" x2="148.6" y2="1686.3" stroke="#000" stroke-width="2" />
<line x1="913.3" y1="1686.3" x2="901" y2="1686.3" stroke="#000" stroke-width="2" />
<line x1="136.3" y1="1640.35" x2="142.5" y2="1640.35" stroke="#000" stroke-width="2" />
<line x1="913.3" y1="1640.35" x2="907.1" y2="1640.35" stroke="#000" stroke-width="2" />
<line x1="136.3" y1="1594.4" x2="148.6" y2="1594.4" stroke="#000" stroke-width="2" />
<line x1="913.3" y1="1594.4" x2="901" y2="1594.4" stroke="#000" stroke-width="2" />
<line x1="136.3" y1="1548.45" x2="142.5" y2="1548.45" stroke="#000" stroke-width="2" />
<line x1="913.3" y1="1548.45" x2="907.1" y2="1548.45" stroke="#000" stroke-width="2" />
<line x1="136.3" y1="1502.5" x2="148.6" y2="1502.5" stroke="#000" stroke-width="2" />
<line x1="913.3" y1="1502.5" x2="901" y2="1502.5" stroke="#000" stroke-width="2" />
<line x1="154.88" y1="1962" x2="154.88" y2="1956.8" stroke="#000" stroke-width="2" />
<line x1="154.88" y1="1456.6" x2="154.88" y2="1461.8" stroke="#000" stroke-width="2" />
<line x1="170.64" y1="1962" x2="170.64" y2="1956.8" stroke="#000" stroke-width="2" />
<line x1="170.64" y1="1456.6" x2="170.64" y2="1461.8" stroke="#000" stroke-width="2" />
<line x1="184.29" y1="1962" x2="184.29" y2="1956.8" stroke="#000" stroke-width="2" />
<line x1="184.29" y1="1456.6" x2="184.29" y2="1461.8" stroke="#000" stroke-width="2" />
<line x1="196.33" y1="1962" x2="196.33" y2="1956.8" stroke="#000" stroke-width="2" />
<line x1="196.33" y1="1456.6" x2="196.33" y2="1461.8" stroke="#000" stroke-width="2" />
<line x1="207.1" y1="1962" x2="207.1" y2="1952" stroke="#000" stroke-width="2" />
<line x1="207.1" y1="1456.6" x2="207.1" y2="1466.6" stroke="#000" stroke-width="2" />
<line x1="277.96" y1="1962" x2="277.96" y2="1956.8" stroke="#000" stroke-width="2" />
<line x1="277.96" y1="1456.6" x2="277.96" y2="1461.8" stroke="#000" stroke-width="2" />
<line x1="319.41" y1="1962" x2="319.41" y2="1956.8" stroke="#000" stroke-width="2" />
<line x1="319.41" y1="1456.6" x2="319.41" y2="1461.8" stroke="#000" stroke-width="2" />
<line x1="348.82" y1="1962" x2="348.82" y2="1956.8" stroke="#000" stroke-width="2" />
<line x1="348.82" y1="1456.6" x2="348.82" y2="1461.8" stroke="#000" stroke-width="2" />
<line x1="371.64" y1="1962" x2="371.64" y2="1956.8" stroke="#000" stroke-width="2" />
<line x1="371.64" y1="1456.6" x2="371.64" y2="1461.8" stroke="#000" stroke-width="2" />
<line x1="390.28" y1="1962" x2="390.28" y2="1956.8" stroke="#000" stroke-width="2" />
<line x1="390.28" y1="1456.6" x2="390.28" y2="1461.8" stroke="#000" stroke-width="2" />
<line x1="406.04" y1="1962" x2="406.04" y2="1956.8" stroke="#000" stroke-width="2" />
<line x1="406.04" y1="1456.6" x2="406.04" y2="1461.8" stroke="#000" stroke-width="2" />
<line x1="419.69" y1="1962" x2="419.69" y2="1956.8" stroke="#000" stroke-width="2" />
<line x1="419.69" y1="1456.6" x2="419.69" y2="1461.8" stroke="#000" stroke-width="2" />
<line x1="431.73" y1="1962" x2="431.73" y2="1956.8" stroke="#000" stroke-width="2" />
<line x1="431.73" y1="1456.6" x2="431.73" y2="1461.8" stroke="#000" stroke-width="2" />
<line x1="442.5" y1="1962" x2="442.5" y2="1952" stroke="#000" stroke-width="2" />
<line x1="442.5" y1="1456.6" x2="442.5" y2="1466.6" stroke="#000" stroke-width="2" />
<line x1="513.36" y1="1962" x2="513.36" y2="1956.8" stroke="#000" stroke-width="2" />
<line x1="513.36" y1="1456.6" x2="513.36" y2="1461.8" stroke="#000" stroke-width="2" />
<line x1="554.81" y1="1962" x2="554.81" y2="1956.8" stroke="#000" stroke-width="2" />
<line x1="554.81" y1="1456.6" x2="554.81" y2="1461.8" stroke="#000" stroke-width="2" />
<line x1="584.22" y1="1962" x2="584.22" y2="1956.8" stroke="#000" stroke-width="2" />
<line x1="584.22" y1="1456.6" x2="584.22" y2="1461.8" stroke="#000" stroke-width="2" />
<line x1="607.04" y1="1962" x2="607.04" y2="1956.8" stroke="#000" stroke-width="2" />
<line x1="607.04" y1="1456.6" x2="607.04" y2="1461.8" stroke="#000" stroke-width="2" />
<line x1="625.68" y1="1962" x2="625.68" y2="1956.8" stroke="#000" stroke-width="2" />
<line x1="625.68" y1="1456.6" x2="625.68" y2="1461.8" stroke="#000" stroke-width="2" />
<line x1="641.44" y1="1962" x2="641.44" y2="1956.8" stroke="#000" stroke-width="2" />
<line x1="641.44" y1="1456.6" x2="641.44" y2="1461.8" stroke="#000" stroke-width="2" />
<line x1="655.09" y1="1962" x2="655.09" y2="1956.8" stroke="#000" stroke-width="2" />
<line x1="655.09" y1="1456.6" x2="655.09" y2="1461.8" stroke="#000" stroke-width="2" />
<line x1="667.13" y1="1962" x2="667.13" y2="1956.8" stroke="#000" stroke-width="2" />
<line x1="667.13" y1="1456.6" x2="667.13" y2="1461.8" stroke="#000" stroke-width="2" />
<line x1="677.9" y1="1962" x2="677.9" y2="1952" stroke="#000" stroke-width="2" />
<line x1="677.9" y1="1456.6" x2="677.9" y2="1466.6" stroke="#000" stroke-width="2" />
<line x1="748.76" y1="1962" x2="748.76" y2="1956.8" stroke="#000" stroke-width="2" />
<line x1="748.76" y1="1456.6" x2="748.76" y2="1461.8" stroke="#000" stroke-width="2" />
<line x1="790.21" y1="1962" x2="790.21" y2="1956.8" stroke="#000" stroke-width="2" />
<line x1="790.21" y1="1456.6" x2="790.21" y2="1461.8" stroke="#000" stroke-width="2" />
<line x1="819.62" y1="1962" x2="819.62" y2="1956.8" stroke="#000" stroke-width="2" />
<line x1="819.62" y1="1456.6" x2="819.62" y2="1461.8" stroke="#000" stroke-width="2" />
<line x1="842.44" y1="1962" x2="842.44" y2="1956.8" stroke="#000" stroke-width="2" />
<line x1="842.44" y1="1456.6" x2="842.44" y2="1461.8" stroke="#000" stroke-width="2" />
<line x1="861.08" y1="1962" x2="861.08" y2="1956.8" stroke="#000" stroke-width="2" />
<line x1="861.08" y1="1456.6" x2="861.08" y2="1461.8" stroke="#000" stroke-width="2" />
<line x1="876.84" y1="1962" x2="876.84" y2="1956.8" stroke="#000" stroke-width="2" />
<line x1="876.84" y1="1456.6" x2="876.84" y2="1461.8" stroke="#000" stroke-width="2" />
<line x1="890.49" y1="1962" x2="890.49" y2="1956.8" stroke="#000" stroke-width="2" />
<line x1="890.49" y1="1456.6" x2="890.49" y2="1461.8" stroke="#000" stroke-width="2" />
<line x1="902.53" y1="1962" x2="902.53" y2="1956.8" stroke="#000" stroke-width="2" />
<line x1="902.53" y1="1456.6" x2="902.53" y2="1461.8" stroke="#000" stroke-width="2" />
<text x="127" y="1509.8" font-size="31.4" text-anchor="end" letter-spacing="2">1.0</text>
<text x="127" y="1605.1" font-size="31.4" text-anchor="end" letter-spacing="2">0.9</text>
<text x="127" y="1695.2" font-size="31.4" text-anchor="end" letter-spacing="2">0.8</text>
<text x="127" y="1788.7" font-size="31.4" text-anchor="end" letter-spacing="2">0.7</text>
<text x="127" y="1882" font-size="31.4" text-anchor="end" letter-spacing="2">0.6</text>
<text x="127" y="1964.2" font-size="31.4" text-anchor="end" letter-spacing="2">0.5</text>
<text x="204.3" y="2007.5" font-size="31.4" text-anchor="middle" letter-spacing="1.2">0.01</text>
<text x="443.3" y="2007.5" font-size="31.4" text-anchor="middle" letter-spacing="1.2">0.1</text>
<text x="684" y="2007.5" font-size="31.4" text-anchor="middle" >1</text>
<text x="909.5" y="2007.5" font-size="31.4" text-anchor="middle" letter-spacing="1.2">10</text>
<text x="538.9" y="2061.8" font-size="39.85" text-anchor="middle" >motor tether stiffness (pN/nm)</text>
<text transform="translate(44.8,1867.2) rotate(-90)" font-size="40">Run length (nm)</text>
<text x="3" y="1448.5" font-size="43" text-anchor="start" font-weight="bold" >C</text>
<text x="585" y="1719.6" font-size="31.8" text-anchor="middle" >measured kinesin</text>
<text x="589.5" y="1758" font-size="31.8" text-anchor="middle" >tether stiffness</text>
<line x1="561.4" y1="1688.4" x2="561.4" y2="1642" stroke="#000" stroke-width="2.1" />
<path d="M561.4 1625.8 C563 1634 565.6 1642 568.9 1649.6 L561.4 1644.4 L553.9 1649.6 C557.2 1642 559.8 1634 561.4 1625.8 Z" fill="#000"/>
<line x1="440.2" y1="1831" x2="511.4" y2="1831" stroke="#cf2029" stroke-width="4.1" stroke-linecap="round"/>
<rect x="469.1" y="1824.5" width="13" height="13" fill="#cf2029"/>
<text x="524.3" y="1839.6" font-size="31.85" text-anchor="start" >discontinous extrapolation</text>
<line x1="440.2" y1="1872.5" x2="511.4" y2="1872.5" stroke="#48699f" stroke-width="4.1" stroke-linecap="round"/>
<ellipse cx="475.6" cy="1872.5" rx="7.3" ry="7.3" fill="#48699f"/>
<text x="524.3" y="1879.8" font-size="31.85" text-anchor="start" >exponential extrapolation</text>
<line x1="440.2" y1="1912.2" x2="511.4" y2="1912.2" stroke="#efc02f" stroke-width="4.1" stroke-linecap="round"/>
<path d="M466.5 1917.8 L484.7 1917.8 L475.6 1902.3 Z" fill="#efc02f"/>
<text x="524.3" y="1923.4" font-size="31.85" text-anchor="start" >linear extrapolation</text>
</svg>
</body></html>
